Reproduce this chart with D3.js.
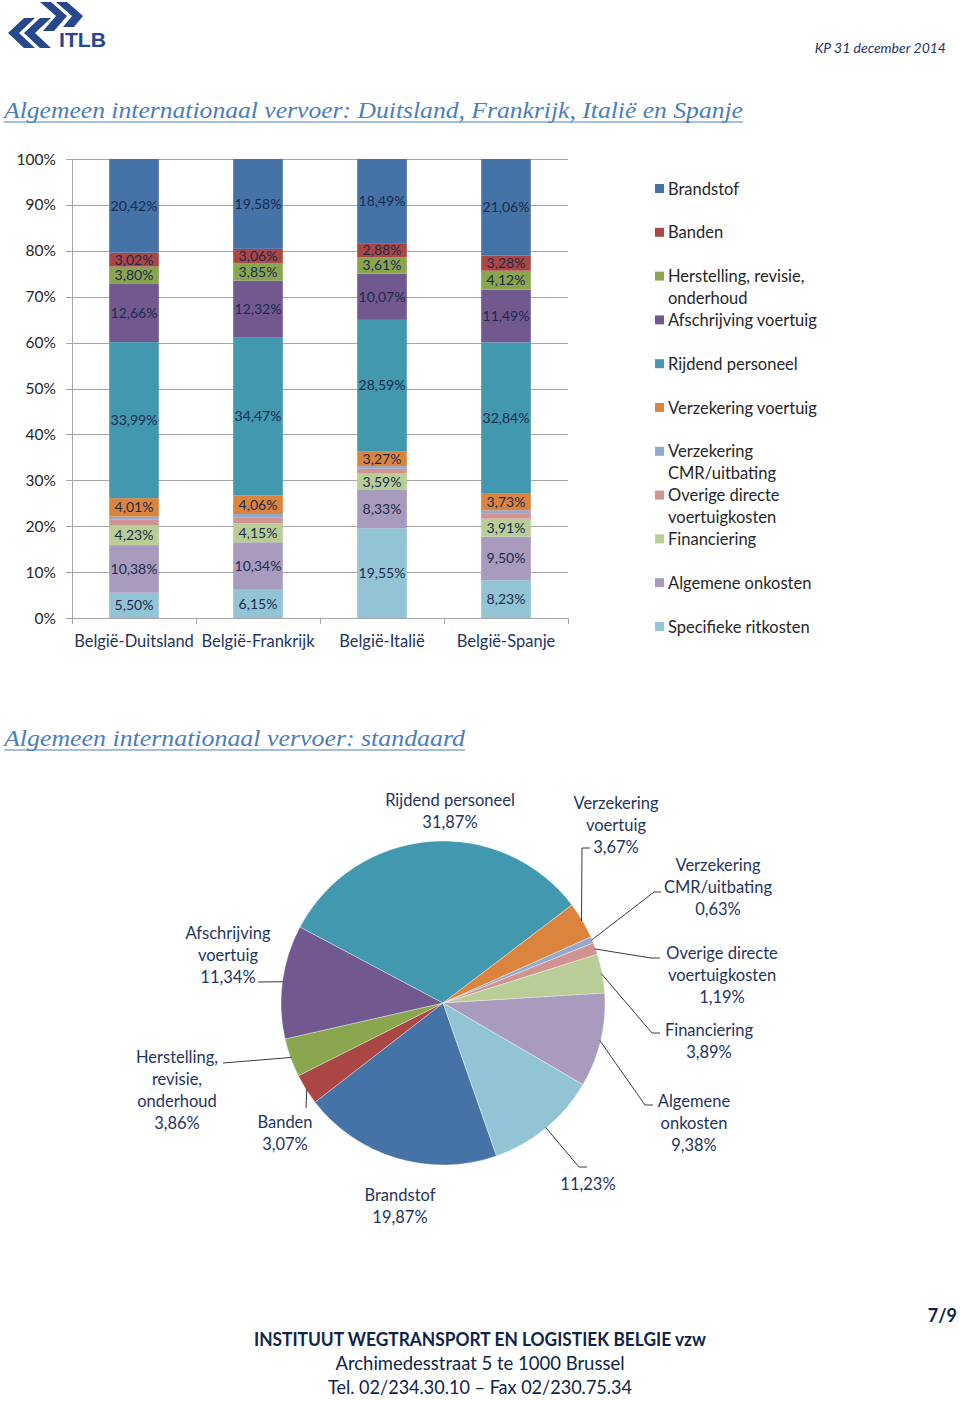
<!DOCTYPE html>
<html>
<head>
<meta charset="utf-8">
<script src="https://cdn.jsdelivr.net/npm/d3@7"></script>
<style>
  html, body { margin: 0; padding: 0; background: #fff; }
  svg { display: block; }
</style>
</head>
<body>
<svg id="page" width="960" height="1401"></svg>
<script>
// ---------------- DATA ----------------
const categories = ["België-Duitsland", "België-Frankrijk", "België-Italië", "België-Spanje"];

// stacked from bottom to top
const seriesNames = [
  "Specifieke ritkosten", "Algemene onkosten", "Financiering",
  "Overige directe voertuigkosten", "Verzekering CMR/uitbating",
  "Verzekering voertuig", "Rijdend personeel", "Afschrijving voertuig",
  "Herstelling, revisie, onderhoud", "Banden", "Brandstof"
];
const specifieke   = [5.50, 6.15, 19.55, 8.23];
const algemene     = [10.38, 10.34, 8.33, 9.50];
const financiering = [4.23, 4.15, 3.59, 3.91];
const overige      = [1.30, 1.30, 1.05, 1.20];
const cmr          = [0.69, 0.72, 0.57, 0.64];
const verzVoertuig = [4.01, 4.06, 3.27, 3.73];
const rijdend      = [33.99, 34.47, 28.59, 32.84];
const afschrijving = [12.66, 12.32, 10.07, 11.49];
const herstelling  = [3.80, 3.85, 3.61, 4.12];
const banden       = [3.02, 3.06, 2.88, 3.28];
const brandstof    = [20.42, 19.58, 18.49, 21.06];
const seriesValues = [specifieke, algemene, financiering, overige, cmr, verzVoertuig,
                      rijdend, afschrijving, herstelling, banden, brandstof];
const seriesLabelled = [true, true, true, false, false, true, true, true, true, true, true];

const yTicks = [0, 10, 20, 30, 40, 50, 60, 70, 80, 90, 100];

// legend order (top to bottom) with line wraps
const legendOrder = ["Brandstof", "Banden", "Herstelling, revisie, onderhoud", "Afschrijving voertuig",
  "Rijdend personeel", "Verzekering voertuig", "Verzekering CMR/uitbating",
  "Overige directe voertuigkosten", "Financiering", "Algemene onkosten", "Specifieke ritkosten"];
const legendLines = [["Brandstof"], ["Banden"], ["Herstelling, revisie,", "onderhoud"], ["Afschrijving voertuig"],
  ["Rijdend personeel"], ["Verzekering voertuig"], ["Verzekering", "CMR/uitbating"],
  ["Overige directe", "voertuigkosten"], ["Financiering"], ["Algemene onkosten"], ["Specifieke ritkosten"]];

// pie (standaard)
const pieCategories = ["Brandstof", "Banden", "Herstelling, revisie, onderhoud", "Afschrijving voertuig",
  "Rijdend personeel", "Verzekering voertuig", "Verzekering CMR/uitbating",
  "Overige directe voertuigkosten", "Financiering", "Algemene onkosten", "Specifieke ritkosten"];
const pieValues = [19.87, 3.07, 3.86, 11.34, 31.87, 3.67, 0.63, 1.19, 3.89, 9.38, 11.23];
const pieLabelNames = [["Brandstof"], ["Banden"], ["Herstelling,", "revisie,", "onderhoud"], ["Afschrijving", "voertuig"],
  ["Rijdend personeel"], ["Verzekering", "voertuig"], ["Verzekering", "CMR/uitbating"],
  ["Overige directe", "voertuigkosten"], ["Financiering"], ["Algemene", "onkosten"], []];

// ---------------- STYLE / LAYOUT ----------------
const colors = {
  "Brandstof": "#4572A7",
  "Banden": "#AA4643",
  "Herstelling, revisie, onderhoud": "#89A54E",
  "Afschrijving voertuig": "#71588F",
  "Rijdend personeel": "#4198AF",
  "Verzekering voertuig": "#DB843D",
  "Verzekering CMR/uitbating": "#93A9CF",
  "Overige directe voertuigkosten": "#D19392",
  "Financiering": "#B9CD96",
  "Algemene onkosten": "#A99BBD",
  "Specifieke ritkosten": "#92C4D6"
};
const FONT = "Lato, 'Open Sans', sans-serif";
const NAVY = "#1f3560";
const fmt = v => d3.format(".2f")(v).replace(".", ",") + "%";

// pie label layout: label centre x, first line y, leader elbow points
const pieLabelLayout = {
  "Brandstof": {x: 400, y: 1195, leader: null},
  "Banden": {x: 285, y: 1122, leader: [[306, 1108]]},
  "Herstelling, revisie, onderhoud": {x: 177, y: 1057, leader: [[223, 1063]]},
  "Afschrijving voertuig": {x: 228, y: 933, leader: [[258, 982]]},
  "Rijdend personeel": {x: 450, y: 800, leader: null},
  "Verzekering voertuig": {x: 616, y: 803, leader: [[582, 848], [590, 848]]},
  "Verzekering CMR/uitbating": {x: 718, y: 865, leader: [[654, 892], [661, 892]]},
  "Overige directe voertuigkosten": {x: 722, y: 953, leader: [[651, 958], [660, 958]]},
  "Financiering": {x: 709, y: 1030, leader: [[652, 1033], [660, 1033]]},
  "Algemene onkosten": {x: 694, y: 1101, leader: [[645, 1105], [653, 1105]]},
  "Specifieke ritkosten": {x: 588, y: 1184, leader: [[579, 1167], [587, 1167]]}
};

const svg = d3.select("#page");

// ---------------- HEADER ----------------
const logo = svg.append("g").attr("fill", "#27488a");
logo.append("path").attr("d", "M24,18 L35,18 L19,33 L35,48 L24,48 L8,33 Z");
logo.append("path").attr("d", "M40,18 L51,18 L35,33 L51,48 L40,48 L24,33 Z");
logo.append("path").attr("d", "M40,2 L51,2 L67,16 L56,16 Z");
logo.append("path").attr("d", "M56,2 L67,2 L83,16 L72,16 Z");
logo.append("path").attr("d", "M56,16 L67,16 L54,31 L43,31 Z");
logo.append("path").attr("d", "M72,16 L83,16 L74,27 L63,27 Z");
logo.append("text").attr("x", 59).attr("y", 47).attr("font-family", "'Liberation Sans', Arial, sans-serif")
  .attr("font-weight", "bold").attr("font-size", 21).attr("textLength", 47)
  .attr("lengthAdjust", "spacingAndGlyphs").text("ITLB");

svg.append("text").attr("x", 946).attr("y", 53).attr("text-anchor", "end")
  .attr("font-family", FONT).attr("font-style", "italic").attr("font-size", 14)
  .attr("fill", NAVY).text("KP 31 december  2014");

function title(txt, y, len) {
  svg.append("text").attr("x", 4).attr("y", y)
    .attr("font-family", "'Liberation Serif', 'DejaVu Serif', serif").attr("font-style", "italic")
    .attr("font-size", 24).attr("fill", "#4a7ebb")
    .attr("textLength", len).attr("lengthAdjust", "spacingAndGlyphs").text(txt);
  svg.append("line").attr("x1", 4).attr("x2", 4 + len).attr("y1", y + 4).attr("y2", y + 4)
    .attr("stroke", "#4a7ebb").attr("stroke-width", 1);
}
title("Algemeen internationaal vervoer: Duitsland, Frankrijk, Italië en Spanje", 118, 739);
title("Algemeen internationaal vervoer: standaard", 746, 461);

// ---------------- BAR CHART ----------------
const plot = {left: 72, right: 568, top: 159, bottom: 618};
const x = d3.scaleBand().domain(categories).range([plot.left, plot.right]).paddingInner(0.6).paddingOuter(0.3);
const xb = d3.scaleBand().domain(categories).range([plot.left, plot.right]);
const y = d3.scaleLinear().domain([0, 100]).range([plot.bottom, plot.top]);

const bar = svg.append("g");
// gridlines
bar.append("g").selectAll("line").data(yTicks).join("line")
  .attr("x1", plot.left - 6).attr("x2", plot.right)
  .attr("y1", d => Math.round(y(d)) + 0.5).attr("y2", d => Math.round(y(d)) + 0.5)
  .attr("stroke", "#a6a6a6").attr("stroke-width", 1);
// y tick labels
bar.append("g").selectAll("text").data(yTicks).join("text")
  .attr("x", 56).attr("y", d => y(d) + 5.5).attr("text-anchor", "end")
  .attr("font-family", FONT).attr("font-size", 15.5).attr("fill", "#262626")
  .text(d => d + "%");

// stacking
const rows = categories.map((c, i) => {
  const o = {cat: c};
  seriesNames.forEach((s, j) => o[s] = seriesValues[j][i]);
  return o;
});
const stack = d3.stack().keys(seriesNames)(rows);
stack.forEach((layer, j) => {
  const name = seriesNames[j];
  const g = bar.append("g");
  g.selectAll("rect").data(layer).join("rect")
    .attr("x", d => x(d.data.cat)).attr("width", x.bandwidth())
    .attr("y", d => y(d[1])).attr("height", d => y(d[0]) - y(d[1]))
    .attr("fill", colors[name]);
  if (seriesLabelled[j]) {
    g.selectAll("text").data(layer).join("text")
      .attr("x", d => x(d.data.cat) + x.bandwidth() / 2)
      .attr("y", d => (y(d[0]) + y(d[1])) / 2 + 5)
      .attr("text-anchor", "middle").attr("font-family", FONT).attr("font-size", 14)
      .attr("fill", "#1b2b4d").text(d => fmt(d[1] - d[0]));
  }
});

// axes lines
bar.append("line").attr("x1", plot.left + 0.5).attr("x2", plot.left + 0.5)
  .attr("y1", plot.top).attr("y2", plot.bottom).attr("stroke", "#a6a6a6");
bar.append("line").attr("x1", plot.left).attr("x2", plot.right)
  .attr("y1", plot.bottom + 0.5).attr("y2", plot.bottom + 0.5).attr("stroke", "#a6a6a6");
const boundaries = categories.map(c => xb(c)).concat([plot.right]);
bar.append("g").selectAll("line").data(boundaries).join("line")
  .attr("x1", d => Math.round(d) + 0.5).attr("x2", d => Math.round(d) + 0.5)
  .attr("y1", plot.bottom).attr("y2", plot.bottom + 6).attr("stroke", "#a6a6a6");
bar.append("g").selectAll("text").data(categories).join("text")
  .attr("x", d => xb(d) + xb.bandwidth() / 2).attr("y", 647)
  .attr("text-anchor", "middle").attr("font-family", FONT).attr("font-size", 16.5)
  .attr("fill", NAVY).text(d => d);

// legend
const legend = svg.append("g");
legendOrder.forEach((name, i) => {
  const cy = 189 + i * 43.8;
  legend.append("rect").attr("x", 655).attr("y", cy - 5).attr("width", 9).attr("height", 9)
    .attr("fill", colors[name]);
  legendLines[i].forEach((ln, k) => {
    legend.append("text").attr("x", 668).attr("y", cy + 5.5 + k * 21.5)
      .attr("font-family", FONT).attr("font-size", 16.5).attr("fill", "#262626").text(ln);
  });
});

// ---------------- PIE CHART ----------------
const cx = 443, cy = 1003, R = 162;
const startDeg = 160.7;
const pie = d3.pie().sort(null).value(d => d.v)
  .startAngle(startDeg * Math.PI / 180).endAngle(startDeg * Math.PI / 180 + 2 * Math.PI);
const arcs = pie(pieCategories.map((c, i) => ({c, v: pieValues[i], lines: pieLabelNames[i]})));
const arc = d3.arc().innerRadius(0).outerRadius(R);
const pg = svg.append("g").attr("transform", `translate(${cx},${cy})`);
pg.selectAll("path").data(arcs).join("path")
  .attr("d", arc).attr("fill", d => colors[d.data.c])
  .attr("stroke", "#ffffff").attr("stroke-width", 0.6).attr("stroke-opacity", 0.6);

// leaders & labels
const lg = svg.append("g");
arcs.forEach(a => {
  const lay = pieLabelLayout[a.data.c];
  const mid = (a.startAngle + a.endAngle) / 2;
  const sx = cx + Math.sin(mid) * (R - 1), sy = cy - Math.cos(mid) * (R - 1);
  if (lay.leader) {
    const pts = [[sx, sy]].concat(lay.leader);
    lg.append("path").attr("d", d3.line()(pts)).attr("fill", "none")
      .attr("stroke", "#3a3a3a").attr("stroke-width", 1);
  }
  const lines = a.data.lines.concat([fmt(a.data.v)]);
  lines.forEach((ln, k) => {
    lg.append("text").attr("x", lay.x).attr("y", lay.y + 6 + k * 22)
      .attr("text-anchor", "middle").attr("font-family", FONT).attr("font-size", 16.5)
      .attr("fill", NAVY).text(ln);
  });
});

// ---------------- FOOTER ----------------
svg.append("text").attr("x", 957).attr("y", 1322).attr("text-anchor", "end")
  .attr("font-family", FONT).attr("font-weight", "bold").attr("font-size", 18)
  .attr("fill", "#0f2447").text("7/9");
svg.append("text").attr("x", 480).attr("y", 1346).attr("text-anchor", "middle")
  .attr("font-family", FONT).attr("font-weight", "bold").attr("font-size", 18.5)
  .attr("fill", "#0f2447").attr("textLength", 452).attr("lengthAdjust", "spacingAndGlyphs")
  .text("INSTITUUT WEGTRANSPORT EN LOGISTIEK BELGIE vzw");
svg.append("text").attr("x", 480).attr("y", 1370).attr("text-anchor", "middle")
  .attr("font-family", FONT).attr("font-size", 18.5).attr("fill", "#0f2447")
  .attr("textLength", 289).attr("lengthAdjust", "spacingAndGlyphs")
  .text("Archimedesstraat 5 te 1000 Brussel");
svg.append("text").attr("x", 480).attr("y", 1394).attr("text-anchor", "middle")
  .attr("font-family", FONT).attr("font-size", 18.5).attr("fill", "#0f2447")
  .attr("textLength", 304).attr("lengthAdjust", "spacingAndGlyphs")
  .text("Tel. 02/234.30.10 – Fax 02/230.75.34");
</script>
</body>
</html>
